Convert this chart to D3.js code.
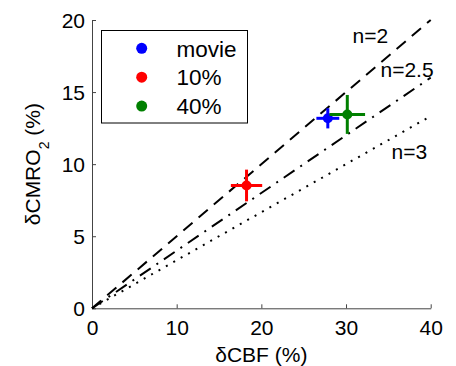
<!DOCTYPE html>
<html>
<head>
<meta charset="utf-8">
<script src="https://cdn.jsdelivr.net/npm/d3@7"></script>
<style>
  body { margin: 0; background: #fff; }
  svg { display: block; font-family: 'Liberation Sans', Arial, Helvetica, sans-serif; }
</style>
</head>
<body>
<div id="chart"></div>
<script>
// Data
const groups = ['movie', '10%', '40%'];
const colors = ['#0000ff', '#ff0000', '#008000'];
const cbf = [27.85, 18.25, 30.15];
const cbfErr = [1.35, 1.85, 2.1];
const cmro = [13.18, 8.52, 13.45];
const cmroErr = [0.7, 1.1, 1.35];

// coupling lines y = x / n
const nValues = [2, 2.5, 3];
const nLabels = ['n=2', 'n=2.5', 'n=3'];
const dashes = ['12,8', '13,7,2,7', '2,6.5'];

const xTicks = [0, 10, 20, 30, 40];
const yTicks = [0, 5, 10, 15, 20];

const width = 456;
const height = 366;
const margin = { t: 20, r: 25.3, b: 57.7, l: 92 };

const svg = d3
  .select('#chart')
  .append('svg')
  .attr('width', width)
  .attr('height', height);

const x = d3.scaleLinear().domain([0, 40]).range([margin.l, width - margin.r]);
const y = d3.scaleLinear().domain([0, 20]).range([height - margin.b, margin.t]);

// axes
const xAxis = svg
  .append('g')
  .attr('transform', `translate(0,${y(0)})`)
  .call(d3.axisBottom(x).tickValues(xTicks).tickSizeInner(-4).tickSizeOuter(0).tickPadding(12));

const yAxis = svg
  .append('g')
  .attr('transform', `translate(${x(0)},0)`)
  .call(d3.axisLeft(y).tickValues(yTicks).tickSizeInner(-4).tickSizeOuter(0).tickPadding(7));

[xAxis, yAxis].forEach((g) => {
  g.selectAll('path, line').attr('stroke', '#444');
  g.selectAll('text')
    .attr('fill', '#000')
    .style('font-size', '21px')
    .style('font-family', "'Liberation Sans', Arial, sans-serif");
});
yAxis.selectAll('text').attr('dy', '0.36em');

// coupling lines
const line = d3
  .line()
  .x((d) => x(d[0]))
  .y((d) => y(d[1]));

svg
  .selectAll('.nline')
  .data(nValues)
  .join('path')
  .attr('class', 'nline')
  .attr('d', (n) => line([[0, 0], [40, 40 / n]]))
  .attr('fill', 'none')
  .attr('stroke', '#000')
  .attr('stroke-width', 2)
  .attr('stroke-dasharray', (n, i) => dashes[i]);

// line labels
const labelPos = [
  [352.5, 43],
  [380.5, 77],
  [391.5, 159],
];
svg
  .selectAll('.nlabel')
  .data(nLabels)
  .join('text')
  .attr('class', 'nlabel')
  .attr('x', (d, i) => labelPos[i][0])
  .attr('y', (d, i) => labelPos[i][1])
  .style('font-size', '21px')
  .text((d) => d);

// error bars and points
const pts = groups.map((g, i) => ({
  g, c: colors[i], x: cbf[i], xe: cbfErr[i], y: cmro[i], ye: cmroErr[i],
}));

const pg = svg.selectAll('.pt').data(pts).join('g').attr('class', 'pt');
pg.append('line')
  .attr('x1', (d) => x(d.x - d.xe))
  .attr('x2', (d) => x(d.x + d.xe))
  .attr('y1', (d) => y(d.y))
  .attr('y2', (d) => y(d.y))
  .attr('stroke', (d) => d.c)
  .attr('stroke-width', 3);
pg.append('line')
  .attr('x1', (d) => x(d.x))
  .attr('x2', (d) => x(d.x))
  .attr('y1', (d) => y(d.y - d.ye))
  .attr('y2', (d) => y(d.y + d.ye))
  .attr('stroke', (d) => d.c)
  .attr('stroke-width', 3);
pg.append('circle')
  .attr('cx', (d) => x(d.x))
  .attr('cy', (d) => y(d.y))
  .attr('r', 5)
  .attr('fill', (d) => d.c);

// legend
const legend = svg.append('g').attr('class', 'legend');
legend
  .append('rect')
  .attr('x', 101.5)
  .attr('y', 30.5)
  .attr('width', 146)
  .attr('height', 92.5)
  .attr('fill', '#fff')
  .attr('stroke', '#000')
  .attr('stroke-width', 1);

const items = legend
  .selectAll('.item')
  .data(groups)
  .join('g')
  .attr('class', 'item')
  .attr('transform', (d, i) => `translate(0,${48.3 + i * 28.9})`);
items.append('circle').attr('cx', 141.7).attr('cy', 0).attr('r', 5.5).attr('fill', (d, i) => colors[i]);
items
  .append('text')
  .attr('x', 176.5)
  .attr('y', 8.2)
  .style('font-size', '22.5px')
  .text((d) => d);

// axis titles
svg
  .append('text')
  .attr('x', (x(0) + x(40)) / 2)
  .attr('y', 362)
  .attr('text-anchor', 'middle')
  .style('font-size', '21px')
  .text('δCBF (%)');

const yl = svg
  .append('text')
  .attr('transform', `translate(40,${(y(0) + y(20)) / 2}) rotate(-90)`)
  .attr('text-anchor', 'middle')
  .style('font-size', '21px');
yl.append('tspan').text('δCMRO');
yl.append('tspan').attr('dy', 9).style('font-size', '14px').text('2');
yl.append('tspan').attr('dy', -9).text(' (%)');
</script>
</body>
</html>
